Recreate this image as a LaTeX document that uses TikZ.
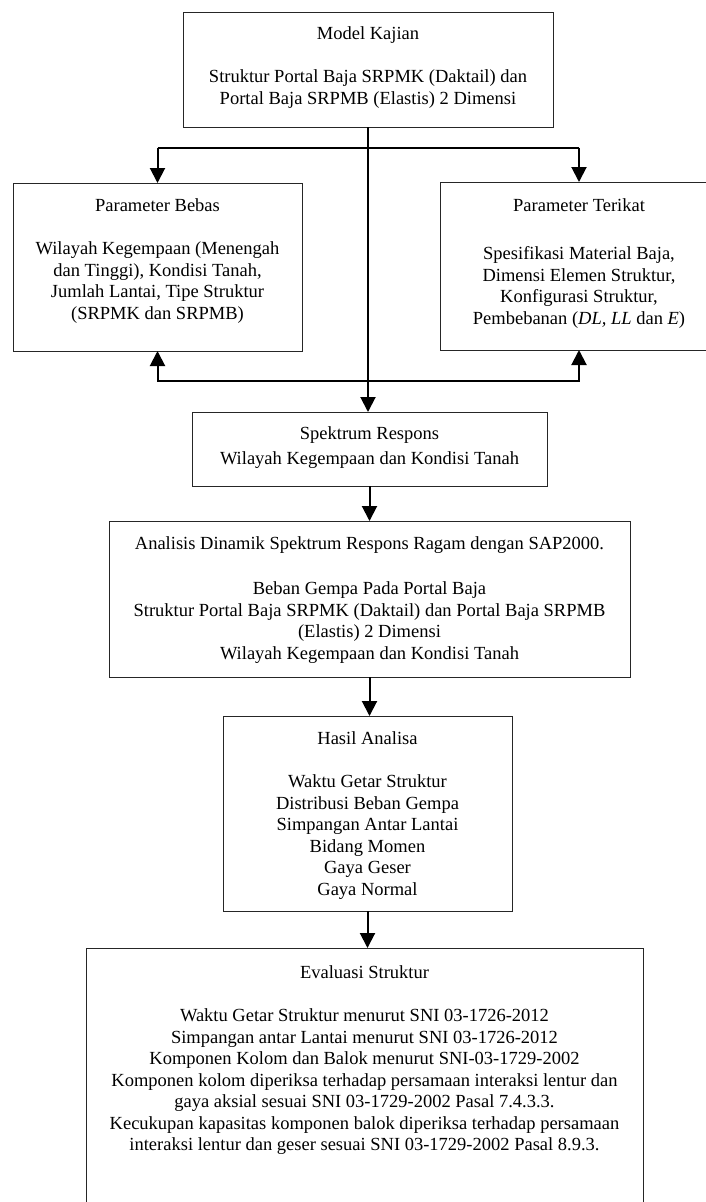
\documentclass[tikz,border=0pt]{standalone}
\usepackage{fontspec}
\setmainfont{Liberation Serif}
\usetikzlibrary{arrows.meta,calc}
\begin{document}
\begin{tikzpicture}[x=1pt,y=-1pt,
  font=\fontsize{18.5}{21.5}\selectfont,
  box/.style={draw=black!85, line width=1pt, inner sep=0pt, outer sep=0pt},
  txt/.style={align=center, inner sep=0pt, anchor=north},
  conn/.style={line width=2pt},
  arr/.style={conn, -{Triangle[length=15pt,width=15pt]}}]
\useasboundingbox (0,0) rectangle (705,1202);

% boxes
\node[box, minimum width=370pt, minimum height=115pt] (model) at (368,69.5) {};
\node[box, minimum width=289pt, minimum height=168pt] (bebas) at (157.5,267) {};
\node[box, minimum width=278pt, minimum height=168pt] (terikat) at (579,266) {};
\node[box, minimum width=355pt, minimum height=74pt] (spek) at (369.5,449) {};
\node[box, minimum width=521pt, minimum height=156pt] (anal) at (369.5,599) {};
\node[box, minimum width=289pt, minimum height=195pt] (hasil) at (367.5,813.5) {};
\node[box, minimum width=557pt, minimum height=272pt] (eval) at (364.5,1084) {};

% texts
\node[txt] (model-t) at ($(model.north)+(0,14.5)$) {Model Kajian\\[21.5pt]
  Struktur Portal Baja SRPMK (Daktail) dan\\ Portal Baja SRPMB (Elastis) 2 Dimensi};
\node[txt] (bebas-t) at ($(bebas.north)+(0,15.5)$) {Parameter Bebas\\[21.5pt]
  Wilayah Kegempaan (Menengah\\ dan Tinggi), Kondisi Tanah,\\ Jumlah Lantai, Tipe Struktur\\ (SRPMK dan SRPMB)};
\node[txt] (terikat-t) at ($(terikat.north)+(0,16.5)$) {Parameter Terikat\\[26.5pt]
  Spesifikasi Material Baja,\\ Dimensi Elemen Struktur,\\ Konfigurasi Struktur,\\ Pembebanan (\textit{DL, LL} dan \textit{E})};
\node[txt] (spek-t) at ($(spek.north)+(0,14.5)$) {Spektrum Respons\\[3.5pt]
  Wilayah Kegempaan dan Kondisi Tanah};
\node[txt] (anal-t) at ($(anal.north)+(0,15.5)$) {Analisis Dinamik Spektrum Respons Ragam dengan SAP2000.\\[23.5pt]
  Beban Gempa Pada Portal Baja\\ Struktur Portal Baja SRPMK (Daktail) dan Portal Baja SRPMB\\ (Elastis) 2 Dimensi\\ Wilayah Kegempaan dan Kondisi Tanah};
\node[txt] (hasil-t) at ($(hasil.north)+(0,15.5)$) {Hasil Analisa\\[21.5pt]
  Waktu Getar Struktur\\ Distribusi Beban Gempa\\ Simpangan Antar Lantai\\ Bidang Momen\\ Gaya Geser\\ Gaya Normal};
\node[txt] (eval-t) at ($(eval.north)+(0,17.5)$) {Evaluasi Struktur\\[21.5pt]
  Waktu Getar Struktur menurut SNI 03-1726-2012\\
  Simpangan antar Lantai menurut SNI 03-1726-2012\\
  Komponen Kolom dan Balok menurut SNI-03-1729-2002\\
  Komponen kolom diperiksa terhadap persamaan interaksi lentur dan\\
  gaya aksial sesuai SNI 03-1729-2002 Pasal 7.4.3.3.\\
  Kecukupan kapasitas komponen balok diperiksa terhadap persamaan\\
  interaksi lentur dan geser sesuai SNI 03-1729-2002 Pasal 8.9.3.};

% junctions
\coordinate (j1) at (368,147.5);
\coordinate (j2) at (368,381);

% connectors
\draw[arr] (model.south) -- (model.south |- spek.north);
\draw[conn] (j1 -| bebas.north) -- (j1 -| terikat.north);
\draw[arr] (j1 -| bebas.north) -- (bebas.north);
\draw[arr] (j1 -| terikat.north) -- (terikat.north);
\draw[arr] (j2) -| (bebas.south);
\draw[arr] (j2) -| (terikat.south);
\draw[arr] (spek.south) -- (spek.south |- anal.north);
\draw[arr] (anal.south) -- (anal.south |- hasil.north);
\draw[arr] (hasil.south) -- (hasil.south |- eval.north);
\end{tikzpicture}
\end{document}
